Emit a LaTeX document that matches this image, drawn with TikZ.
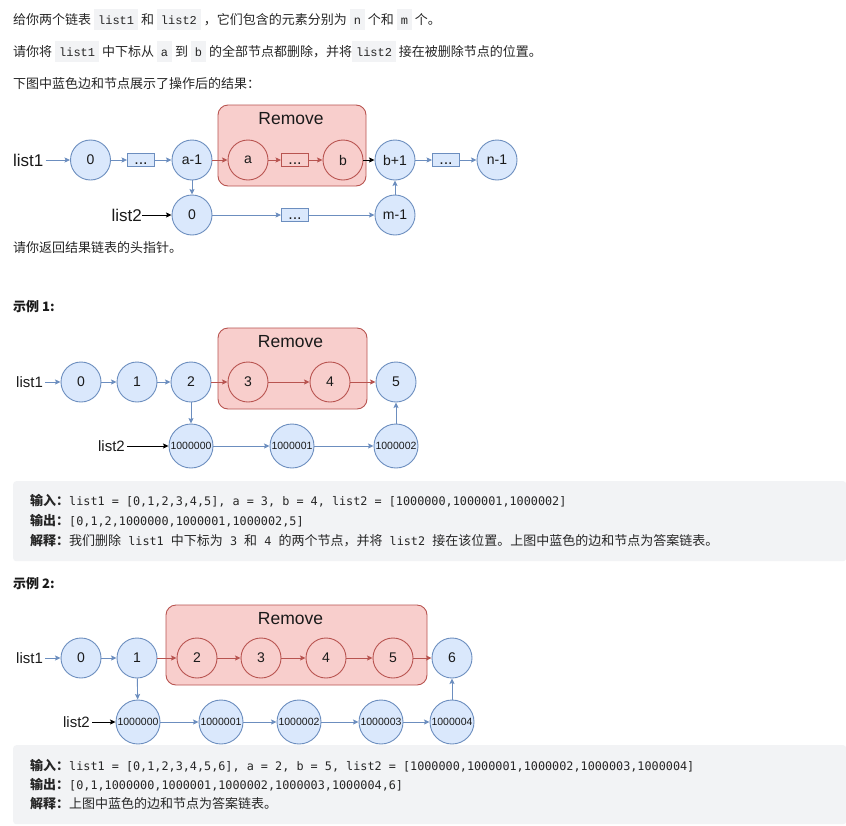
\documentclass[tikz,border=0pt]{standalone}
\usepackage{fontspec}
\setmainfont{Liberation Sans}
\newfontfamily\cjk{Noto Sans CJK SC}
\newfontfamily\mono{Liberation Mono}
\newfontfamily\bmono{DejaVu Sans Mono}
\usetikzlibrary{arrows.meta}
\definecolor{bfill}{HTML}{DAE8FC}
\definecolor{bdraw}{HTML}{6C8EBF}
\definecolor{rfill}{HTML}{F8CECC}
\definecolor{rdraw}{HTML}{B85450}
\definecolor{ink}{HTML}{1A1A1A}
\definecolor{txtc}{HTML}{262626}
\definecolor{codebg}{HTML}{F2F3F5}
\definecolor{boxbg}{HTML}{F2F3F5}
\newcommand{\cspan}[1]{{\setlength\fboxsep{0pt}\colorbox{codebg}{\hspace{4pt}\rule[-5.5pt]{0pt}{21pt}{\mono\fontsize{12}{12}\selectfont #1}\hspace{4pt}}}}
\newcommand{\mtx}[1]{{\bmono\mdseries\fontsize{11.8}{12}\selectfont #1}}
\newcommand{\lbl}[1]{{\bfseries #1}}
\begin{document}
\begin{tikzpicture}[x=1pt,y=-1pt,
  txt/.style={inner sep=0pt, text=txtc, font=\cjk\fontsize{13}{13}\selectfont, anchor=base west},
  bn/.style={circle, draw=bdraw, fill=bfill, minimum size=40pt, inner sep=0pt, line width=0.9pt, text=ink, font=\fontsize{14}{14}\selectfont},
  bnn/.style={bn, minimum size=44pt, font=\fontsize{10.5}{10.5}\selectfont},
  rn/.style={bn, draw=rdraw, fill=rfill},
  bdot/.style={rectangle, draw=bdraw, fill=bfill, minimum width=27pt, minimum height=13pt, inner sep=0pt, line width=0.9pt, text=ink, text height=8pt, text depth=0pt, font=\fontsize{16}{16}\selectfont},
  rdot/.style={bdot, draw=rdraw, fill=rfill},
  rembox/.style={rectangle, rounded corners=10pt, draw=rdraw, fill=rfill, line width=0.9pt, inner sep=0pt},
  remlab/.style={inner sep=0pt, text=ink, font=\fontsize{17.5}{17.5}\selectfont},
  lbig/.style={inner sep=0pt, text=ink, font=\fontsize{17}{17}\selectfont},
  lsm/.style={inner sep=0pt, text=ink, font=\fontsize{15}{15}\selectfont},
  ba/.style={draw=bdraw, line width=0.9pt, -{Stealth[length=5.5pt,width=5pt,inset=1pt]}},
  ra/.style={ba, draw=rdraw},
  ka/.style={ba, draw=black},
  gbox/.style={rectangle, rounded corners=3pt, fill=boxbg, inner sep=0pt}
]
\useasboundingbox (0,0) rectangle (846,825);
\fill[white] (0,0) rectangle (846,825);

% ---------- description ----------
\node[txt] (p1) at (13,24) {给你两个链表 \cspan{list1} 和 \cspan{list2} ，它们包含的元素分别为 \cspan{n} 个和 \cspan{m} 个。};
\node[txt] (p2) at (13,56) {请你将 \cspan{list1} 中下标从 \cspan{a} 到 \cspan{b} 的全部节点都删除，并将\cspan{list2} 接在被删除节点的位置。};
\node[txt] (p3) at (13,88) {下图中蓝色边和节点展示了操作后的结果：};

% ---------- diagram 1 ----------
\node[rembox, minimum width=148pt, minimum height=81pt] (R1) at (292,145.5) {};
\node[remlab] (R1t) at (291,119) {Remove};
\node[lbig, anchor=west] (L1) at (13,160) {list1};
\node[bn] (A0) at (90.5,160) {0};
\node[bdot] (A1) at (141,160) {...};
\node[bn] (A2) at (192,160) {a-1};
\node[rn] (A3) at (248,160) {a};
\node[rdot] (A4) at (295,160) {...};
\node[rn] (A5) at (343,160) {b};
\node[bn] (A6) at (395,160) {b+1};
\node[bdot] (A7) at (446,160) {...};
\node[bn] (A8) at (497,160) {n-1};
\node[lbig, anchor=east] (L2) at (142,215) {list2};
\node[bn] (B0) at (192,215) {0};
\node[bdot] (B1) at (295,215) {...};
\node[bn] (B2) at (395,215) {m-1};
\draw[ba] (L1.east) ++(2,0) -- (A0);
\draw[ba] (A0) -- (A1);
\draw[ba] (A1) -- (A2);
\draw[ra] (A2) -- (A3);
\draw[ra] (A3) -- (A4);
\draw[ra] (A4) -- (A5);
\draw[ka] (A5) -- (A6);
\draw[ba] (A6) -- (A7);
\draw[ba] (A7) -- (A8);
\draw[ba] (A2) -- (B0);
\draw[ka] (L2) -- (B0);
\draw[ba] (B0) -- (B1);
\draw[ba] (B1) -- (B2);
\draw[ba] (B2) -- (A6);

\node[txt] (p4) at (13,252) {请你返回结果链表的头指针。};

\node[txt, font=\cjk\bfseries\fontsize{13}{13}\selectfont, text=ink] (h1) at (13,311) {示例 1:};

% ---------- diagram 2 ----------
\node[rembox, minimum width=149pt, minimum height=81pt] (R2) at (292.5,368.5) {};
\node[remlab] (R2t) at (290.5,342) {Remove};
\node[lsm, anchor=west] (M1) at (16,382) {list1};
\node[bn] (C0) at (81,382) {0};
\node[bn] (C1) at (137,382) {1};
\node[bn] (C2) at (191,382) {2};
\node[rn] (C3) at (248,382) {3};
\node[rn] (C4) at (330,382) {4};
\node[bn] (C5) at (396,382) {5};
\node[lsm, anchor=east] (M2) at (125,446) {list2};
\node[bnn] (D0) at (191,446) {1000000};
\node[bnn] (D1) at (292,446) {1000001};
\node[bnn] (D2) at (396,446) {1000002};
\draw[ba] (M1.east) ++(2,0) -- (C0);
\draw[ba] (C0) -- (C1);
\draw[ba] (C1) -- (C2);
\draw[ra] (C2) -- (C3);
\draw[ra] (C3) -- (C4);
\draw[ra] (C4) -- (C5);
\draw[ba] (C2) -- (D0);
\draw[ka] (M2.east) ++(2,0) -- (D0);
\draw[ba] (D0) -- (D1);
\draw[ba] (D1) -- (D2);
\draw[ba] (D2) -- (C5);

% ---------- example 1 box ----------
\node[gbox, minimum width=833pt, minimum height=80pt, anchor=north west] (G1) at (13,481) {};
\node[txt] (g11) at (30,505) {\lbl{输入：}\mtx{list1 = [0,1,2,3,4,5], a = 3, b = 4, list2 = [1000000,1000001,1000002]}};
\node[txt] (g12) at (30,525) {\lbl{输出：}\mtx{[0,1,2,1000000,1000001,1000002,5]}};
\node[txt] (g13) at (30,545) {\lbl{解释：}我们删除\mtx{ list1 }中下标为\mtx{ 3 }和\mtx{ 4 }的两个节点，并将\mtx{ list2 }接在该位置。上图中蓝色的边和节点为答案链表。};

\node[txt, font=\cjk\bfseries\fontsize{13}{13}\selectfont, text=ink] (h2) at (13,588) {示例 2:};

% ---------- diagram 3 ----------
\node[rembox, minimum width=261pt, minimum height=80pt] (R3) at (296.5,645) {};
\node[remlab] (R3t) at (290.5,619) {Remove};
\node[lsm, anchor=west] (N1) at (16,658) {list1};
\node[bn] (E0) at (81,658) {0};
\node[bn] (E1) at (137,658) {1};
\node[rn] (E2) at (197,658) {2};
\node[rn] (E3) at (261,658) {3};
\node[rn] (E4) at (326,658) {4};
\node[rn] (E5) at (393,658) {5};
\node[bn] (E6) at (452,658) {6};
\node[lsm, anchor=east] (N2) at (90,722) {list2};
\node[bnn] (F0) at (138,722) {1000000};
\node[bnn] (F1) at (221,722) {1000001};
\node[bnn] (F2) at (299,722) {1000002};
\node[bnn] (F3) at (381,722) {1000003};
\node[bnn] (F4) at (452,722) {1000004};
\draw[ba] (N1.east) ++(2,0) -- (E0);
\draw[ba] (E0) -- (E1);
\draw[ra] (E1) -- (E2);
\draw[ra] (E2) -- (E3);
\draw[ra] (E3) -- (E4);
\draw[ra] (E4) -- (E5);
\draw[ra] (E5) -- (E6);
\draw[ba] (E1) -- (F0);
\draw[ka] (N2.east) ++(2,0) -- (F0);
\draw[ba] (F0) -- (F1);
\draw[ba] (F1) -- (F2);
\draw[ba] (F2) -- (F3);
\draw[ba] (F3) -- (F4);
\draw[ba] (F4) -- (E6);

% ---------- example 2 box ----------
\node[gbox, minimum width=833pt, minimum height=79pt, anchor=north west] (G2) at (13,745) {};
\node[txt] (g21) at (30,770) {\lbl{输入：}\mtx{list1 = [0,1,2,3,4,5,6], a = 2, b = 5, list2 = [1000000,1000001,1000002,1000003,1000004]}};
\node[txt] (g22) at (30,789) {\lbl{输出：}\mtx{[0,1,1000000,1000001,1000002,1000003,1000004,6]}};
\node[txt] (g23) at (30,808) {\lbl{解释：}上图中蓝色的边和节点为答案链表。};
\end{tikzpicture}
\end{document}
